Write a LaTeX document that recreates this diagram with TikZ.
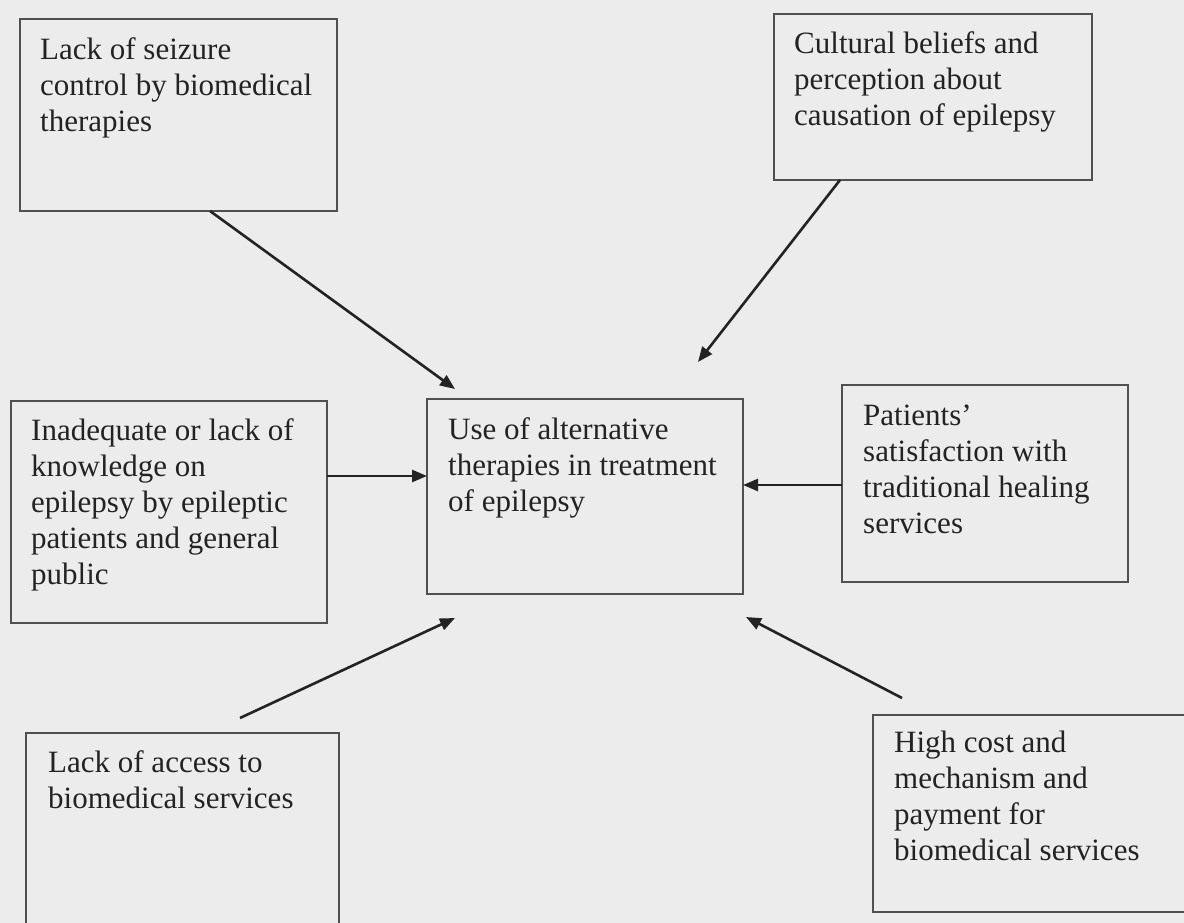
\documentclass[tikz,border=0pt]{standalone}
\usepackage{fontspec}
\setmainfont{Liberation Serif}
\usetikzlibrary{arrows.meta,calc}
\definecolor{paper}{RGB}{236,236,236}
\definecolor{ink}{RGB}{35,35,35}
\definecolor{frame}{RGB}{80,80,80}
\begin{document}
\begin{tikzpicture}[x=1pt,y=-1pt,
  box/.style={draw=frame,line width=1.4pt,anchor=north west,inner sep=0pt,outer sep=0pt,minimum width=#1},
  lbl/.style={anchor=north west,yshift=25.2pt,inner sep=0pt,align=left,text=ink,font=\fontsize{31}{36}\selectfont},
  conn/.style={draw=ink,line width=2.6pt,-{Triangle[length=15pt,width=12pt]}}]
\useasboundingbox (0,0) rectangle (1184,923);
\fill[paper] (0,0) rectangle (1184,923);
\clip (0,0) rectangle (1184,923);
% boxes
\node[box=317pt,minimum height=192pt] (b1) at (20,19) {};
\node[box=318pt,minimum height=166pt] (b2) at (774,14) {};
\node[box=316pt,minimum height=195pt] (c) at (427,399) {};
\node[box=316pt,minimum height=222pt] (b3) at (11,401) {};
\node[box=286pt,minimum height=197pt] (b4) at (842,385) {};
\node[box=313pt,minimum height=260pt] (b5) at (26,733) {};
\node[box=340pt,minimum height=197pt] (b6) at (873,715) {};
% texts
\node[lbl] (t1) at (40,59) {\strut Lack of seizure\\control by biomedical\\therapies};
\node[lbl] (t2) at (794,53) {\strut Cultural beliefs and\\perception about\\causation of epilepsy};
\node[lbl] (tc) at (448,439) {\strut Use of alternative\\therapies in treatment\\of epilepsy};
\node[lbl] (t3) at (31,440) {\strut Inadequate or lack of\\knowledge on\\epilepsy by epileptic\\patients and general\\public};
\node[lbl] (t4) at (863,425) {\strut Patients'\\satisfaction with\\traditional healing\\services};
\node[lbl] (t5) at (48,772) {\strut Lack of access to\\biomedical services};
\node[lbl] (t6) at (894,752) {\strut High cost and\\mechanism and\\payment for\\biomedical services};
% connectors
\draw[conn] ($(b1.south west)+(190,0)$) -- ($(c.north west)+(28,-10)$);
\draw[conn] ($(b2.south west)+(66,0)$) -- ($(c.north east)+(-45,-37)$);
\draw[conn] ($(b3.north east)+(0,75)$) -- ($(c.north west)+(0,77)$);
\draw[conn] ($(b4.north west)+(0,100)$) -- ($(c.north east)+(0,86)$);
\draw[conn] ($(b5.north west)+(214,-15)$) -- ($(c.south west)+(28,24)$);
\draw[conn] ($(b6.north west)+(29,-17)$) -- ($(c.south east)+(3,23)$);
\end{tikzpicture}
\end{document}
